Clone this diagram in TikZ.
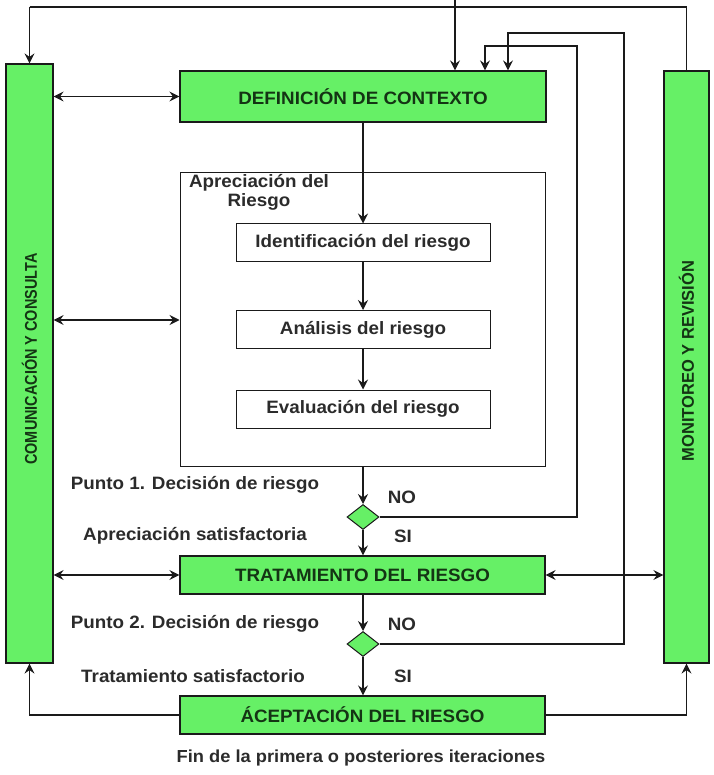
\documentclass[tikz,border=0pt]{standalone}
\usepackage{fontspec}
\setmainfont{Liberation Sans}
\newfontfamily\lblfont[FakeStretch=1.05]{Liberation Sans}
\newfontfamily\barfont[FakeStretch=0.85]{Liberation Sans}
\newfontfamily\barfontb[FakeStretch=0.97]{Liberation Sans}
\usetikzlibrary{shapes.geometric,arrows.meta}

\definecolor{boxgreen}{HTML}{66F066}
\definecolor{ln}{HTML}{1A1A1A}
\definecolor{tx}{HTML}{2B2B2B}
\definecolor{gtx}{HTML}{143414}

\tikzset{
  tip/.tip={Stealth[length=10pt,width=10pt,inset=3.5pt]},
  gbox/.style={draw=ln, line width=1.2pt, fill=boxgreen, inner sep=0pt,
    font=\lblfont\bfseries\fontsize{17.9}{19}\selectfont, text=gtx},
  bar/.style={draw=ln, line width=1.2pt, fill=boxgreen, inner sep=0pt},
  barlbl/.style={font=\barfont\bfseries\fontsize{17}{19}\selectfont, text=gtx, inner sep=0pt},
  wbox/.style={draw=ln, line width=1pt, fill=white, inner sep=0pt,
    font=\lblfont\bfseries\fontsize{17.9}{19}\selectfont, text=tx},
  cont/.style={draw=ln, line width=1pt, fill=none, inner sep=0pt},
  dec/.style={diamond, draw=ln, line width=1pt, fill=boxgreen, inner sep=0pt,
    minimum width=32pt, minimum height=25pt},
  lbl/.style={font=\lblfont\bfseries\fontsize{17.9}{19}\selectfont, text=tx, inner sep=0pt},
  plain/.style={draw=ln, line width=1.1pt},
  arr/.style={plain, -tip},
  darr/.style={plain, tip-tip},
}

\begin{document}
\begin{tikzpicture}[x=1pt,y=-1pt]
\useasboundingbox[fill=white] (0,0) rectangle (713,775);

% side bars
\node[bar, minimum width=47pt, minimum height=599pt] (cc) at (29.5,363.5) {};
\node[bar, minimum width=45pt, minimum height=592pt] (mr) at (686.5,367) {};
\node[barlbl, rotate=90] (cctext) at (29.5,359) {COMUNICACIÓN Y CONSULTA};
\node[barlbl, font=\barfontb\bfseries\fontsize{17}{19}\selectfont, rotate=90] (mrtext) at (686.5,361) {MONITOREO Y REVISIÓN};

% main column
\node[gbox, minimum width=366pt, minimum height=51pt] (def) at (363,96.5) {DEFINICIÓN DE CONTEXTO};
\node[cont, minimum width=365pt, minimum height=293pt] (apr) at (362.5,319.5) {};
\node[lbl, align=center] (aprlbl) at (259,192) {Apreciación del\\Riesgo};
\node[wbox, minimum width=254pt, minimum height=38pt] (ide) at (363,243) {Identificación del riesgo};
\node[wbox, minimum width=254pt, minimum height=38pt] (ana) at (363,329.5) {Análisis del riesgo};
\node[wbox, minimum width=254pt, minimum height=38pt] (eva) at (363,409) {Evaluación del riesgo};
\node[dec] (d1) at (363,517) {};
\node[gbox, minimum width=365pt, minimum height=38pt] (tra) at (362.5,575) {TRATAMIENTO DEL RIESGO};
\node[dec] (d2) at (363,644) {};
\node[gbox, minimum width=365pt, minimum height=38pt] (acc) at (362.5,715) {ÁCEPTACIÓN DEL RIESGO};

% labels
\node[lbl] (p1) at (195,485) {Punto 1. Decisión de riesgo};
\node[lbl] (s1) at (195,536) {Apreciación satisfactoria};
\node[lbl] (no1) at (402,497) {NO};
\node[lbl] (si1) at (403,536) {SI};
\node[lbl] (p2) at (195,624) {Punto 2. Decisión de riesgo};
\node[lbl] (s2) at (193,676) {Tratamiento satisfactorio};
\node[lbl] (no2) at (402,624) {NO};
\node[lbl] (si2) at (403,676) {SI};
\node[lbl, font=\lblfont\bfseries\fontsize{17.4}{19}\selectfont] (fin) at (361,758) {Fin de la primera o posteriores iteraciones};

% monitoring feedback along the top
\coordinate (tl) at (29.5,7);
\coordinate (tr) at (686.5,7);
\coordinate (top) at (455,0);
\draw[plain] (tl) -- (tr);
\draw[arr] (tl) -- (cc.north);
\draw[plain] (tr) -- (mr.north);
\draw[arr] (top) -- (top |- def.north);

% main flow
\draw[arr] (def.south) -- (ide.north);
\draw[arr] (ide) -- (ana);
\draw[arr] (ana) -- (eva);
\draw[arr] (apr.south -| d1.north) -- (d1.north);
\draw[arr] (d1.south) -- (tra.north -| d1.south);
\draw[arr] (tra.south -| d2.north) -- (d2.north);
\draw[arr] (d2.south) -- (acc.north -| d2.south);

% decision loops back to context
\coordinate (k1) at (485,46);
\coordinate (k2) at (508,33);
\draw[arr] (d1.east) -| (577,46) -- (k1) -- (k1 |- def.north);
\draw[arr] (d2.east) -| (624,33) -- (k2) -- (k2 |- def.north);

% communication links
\draw[darr] (cc.east |- def.west) -- (def.west);
\draw[darr] (cc.east |- 0,320) -- (apr.west |- 0,320);
\draw[darr] (cc.east |- tra.west) -- (tra.west);
\draw[darr] (tra.east) -- (mr.west |- tra.east);

% acceptance back to both bars
\draw[arr] (acc.west) -| (cc.south);
\draw[arr] (acc.east) -| (mr.south);
\end{tikzpicture}
\end{document}
